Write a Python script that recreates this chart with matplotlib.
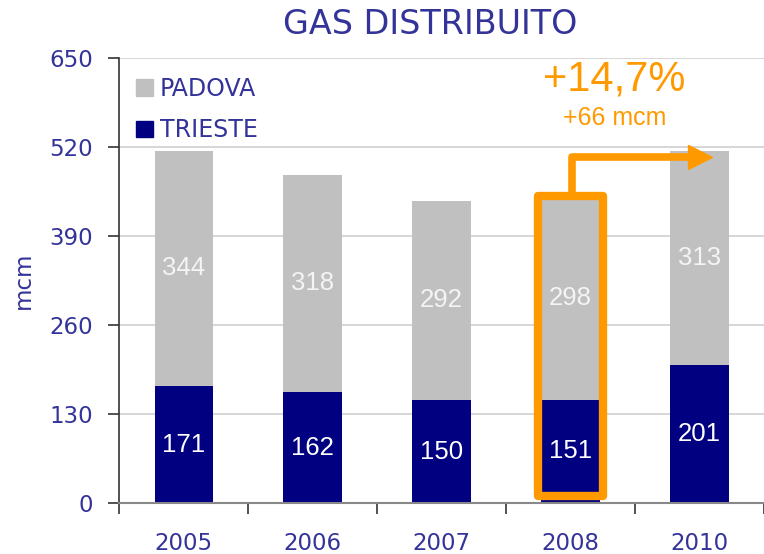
import matplotlib
matplotlib.use("Agg")
import matplotlib.pyplot as plt
from matplotlib.patches import Rectangle, Polygon, Patch

# Data (mcm)
years = ["2005", "2006", "2007", "2008", "2010"]
trieste = [171, 162, 150, 151, 201]
padova = [344, 318, 292, 298, 313]
growth_pct = "+14,7%"
growth_abs = "+66 mcm"

text_col = "#333399"
navy = "#000080"
grey = "#C0C0C0"
orange = "#FF9900"

fig = plt.figure(figsize=(7.64, 5.54), dpi=100)
ax = fig.add_axes([0.1558, 0.092, 0.8442, 0.803])

x = list(range(len(years)))
bar_w = 0.45
ax.bar(x, trieste, width=bar_w, color=navy, zorder=2)
ax.bar(x, padova, width=bar_w, bottom=trieste, color=grey, zorder=2)

# labels in the middle of each segment
for i in x:
    ax.text(i, trieste[i] / 2, str(trieste[i]), ha="center", va="center",
            color="white", fontsize=18.5, family="Liberation Sans", zorder=3)
    ax.text(i, trieste[i] + padova[i] / 2, str(padova[i]), ha="center", va="center",
            color="#F4F4F4", fontsize=18.5, family="Liberation Sans", zorder=3)

ax.set_ylim(0, 650)
ax.set_xlim(-0.5, 4.46)
ax.set_yticks(range(0, 651, 130))
ax.yaxis.grid(True, color="#D0D0D0", linewidth=1.2, zorder=0)
ax.set_axisbelow(True)

# ticks at category boundaries, labels at the centres
ax.set_xticks([i - 0.5 for i in x] + [4.5])
ax.set_xticklabels([])
ax.set_xticks(x, minor=True)
ax.set_xticklabels(years, minor=True)
ax.tick_params(axis="x", which="major", length=8, color="#333333", width=1.2)
ax.tick_params(axis="x", which="minor", length=0, pad=21, labelsize=16.5, labelcolor=text_col)
ax.tick_params(axis="y", length=8, color="#333333", width=1.2, pad=11,
               labelsize=16.5, labelcolor=text_col)

for s in ["top", "right"]:
    ax.spines[s].set_visible(False)
ax.spines["left"].set_color("#333333")
ax.spines["left"].set_linewidth(1.2)
ax.spines["bottom"].set_color("#888888")
ax.spines["bottom"].set_linewidth(1.5)

ax.set_ylabel("mcm", fontsize=16.5, color=text_col, labelpad=10)

handles = [Patch(color=grey, label="PADOVA"), Patch(color=navy, label="TRIESTE")]
leg = ax.legend(handles=handles, loc="upper left", frameon=False, fontsize=17,
                handlelength=0.7, handleheight=0.7, handletextpad=0.3,
                labelspacing=0.75, borderaxespad=0, bbox_to_anchor=(0.012, 0.98))
for t in leg.get_texts():
    t.set_color(text_col)

# highlight box around 2008 and the arrow to 2010
hi = years.index("2008")
top = trieste[hi] + padova[hi]
ax.add_patch(Rectangle((hi - 0.254, 11), 0.508, top - 11, fill=False,
                       edgecolor=orange, linewidth=6, joinstyle="round", zorder=4))
arrow_y = 505
ax.plot([hi + 0.01, hi + 0.01, hi + 0.95], [top, arrow_y, arrow_y], color=orange,
        linewidth=5.5, solid_joinstyle="round", solid_capstyle="butt", zorder=4)
ax.add_patch(Polygon([(hi + 1.1, arrow_y), (hi + 0.915, arrow_y + 17.5),
                      (hi + 0.915, arrow_y - 17.5)], closed=True,
                     color=orange, zorder=4, clip_on=False))

ax.text(hi + 0.34, 619, growth_pct, ha="center", va="center", color=orange,
        fontsize=30, family="Liberation Sans")
ax.text(hi + 0.345, 563, growth_abs, ha="center", va="center", color=orange,
        fontsize=18, family="Liberation Sans")

fig.text(0.563, 0.955, "GAS DISTRIBUITO", ha="center", va="center",
         color=text_col, fontsize=24)

fig.savefig("out.png", dpi=100)
